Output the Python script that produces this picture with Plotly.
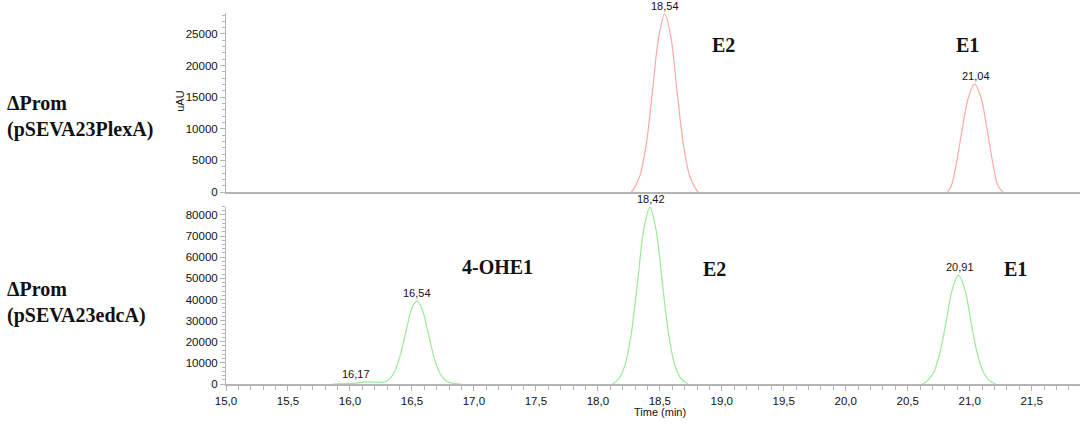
import plotly.graph_objects as go
from plotly.subplots import make_subplots

# top trace (pSEVA23PlexA) - red peaks
plexa_e2_x = [18.27, 18.29, 18.34, 18.39, 18.44, 18.49, 18.54, 18.59, 18.64, 18.69, 18.74, 18.79, 18.81]
plexa_e2_y = [0, 500, 2600, 7500, 15800, 24400, 28200, 24400, 15800, 7500, 2600, 500, 0]
plexa_e1_x = [20.82, 20.85, 20.89, 20.94, 20.99, 21.04, 21.09, 21.14, 21.19, 21.23, 21.27]
plexa_e1_y = [0, 900, 4200, 10000, 15000, 17100, 15000, 10000, 4200, 900, 0]

# bottom trace (pSEVA23edcA) - green peaks
edca_ohe1_x = [15.86, 15.95, 16.05, 16.12, 16.17, 16.22, 16.27, 16.31, 16.36, 16.41, 16.46, 16.50, 16.54,
               16.58, 16.63, 16.68, 16.73, 16.78, 16.84, 16.90]
edca_ohe1_y = [0, 150, 450, 850, 1000, 800, 900, 1900, 5770, 14500, 26900, 35800, 39300,
               35800, 24400, 12400, 4630, 1340, 190, 0]
edca_e2_x = [18.12, 18.17, 18.22, 18.27, 18.32, 18.37, 18.42, 18.47, 18.52, 18.57, 18.62, 18.67, 18.73]
edca_e2_y = [0, 2600, 9100, 24000, 48000, 72800, 83600, 72800, 48000, 24000, 9100, 2600, 0]
edca_e1_x = [20.62, 20.66, 20.71, 20.76, 20.81, 20.86, 20.91, 20.96, 21.01, 21.06, 21.11, 21.16, 21.21]
edca_e1_y = [0, 1600, 5600, 14800, 29600, 44900, 51500, 44900, 29600, 14800, 5600, 1600, 0]

# peak retention-time labels: (text, x, y, row)
peak_labels = [("18,54", 18.545, 28200, 1), ("21,04", 21.05, 17100, 1),
               ("16,17", 16.05, 1000, 2), ("16,54", 16.54, 39300, 2),
               ("18,42", 18.43, 83600, 2), ("20,91", 20.92, 51500, 2)]
# compound names: (text, x, y, row)
compound_labels = [("E2", 19.01, 23260, 1), ("E1", 20.98, 23260, 1),
                   ("4-OHE1", 17.19, 55400, 2), ("E2", 18.94, 54400, 2), ("E1", 21.37, 54400, 2)]

RED = '#ffa8a8'
GREEN = '#9aea9a'
AXC = '#b4b4b4'
SANS = 'Liberation Sans, Arial, sans-serif'
SERIF = 'Liberation Serif, Times New Roman, serif'
TICKFONT = dict(family=SANS, size=11.5, color='#111')

fig = make_subplots(rows=2, cols=1, shared_xaxes=False, vertical_spacing=0.04)
for xs, ys in [(plexa_e2_x, plexa_e2_y), (plexa_e1_x, plexa_e1_y)]:
    fig.add_trace(go.Scatter(x=xs, y=ys, mode='lines', line=dict(color=RED, width=1.2, shape='spline'),
                             showlegend=False), 1, 1)
for xs, ys in [(edca_ohe1_x, edca_ohe1_y), (edca_e2_x, edca_e2_y), (edca_e1_x, edca_e1_y)]:
    fig.add_trace(go.Scatter(x=xs, y=ys, mode='lines', line=dict(color=GREEN, width=1.2, shape='spline'),
                             showlegend=False), 2, 1)

annots = []
for t, x, y, r in peak_labels:
    annots.append(dict(text=t, x=x, y=y, xref='x' if r == 1 else 'x2', yref='y' if r == 1 else 'y2',
                       showarrow=False, yanchor='bottom', font=dict(family=SANS, size=11, color='#111')))
for t, x, y, r in compound_labels:
    annots.append(dict(text='<b>' + t + '</b>', x=x, y=y, xref='x' if r == 1 else 'x2',
                       yref='y' if r == 1 else 'y2', showarrow=False,
                       font=dict(family=SERIF, size=20, color='#111')))
annots.append(dict(text='<b>ΔProm<br>(pSEVA23PlexA)</b>', x=-0.2588, y=0.722, xref='paper', yref='paper',
                   xanchor='left', yanchor='middle', align='left', showarrow=False,
                   font=dict(family=SERIF, size=20, color='#111')))
annots.append(dict(text='<b>ΔProm<br>(pSEVA23edcA)</b>', x=-0.2588, y=0.221, xref='paper', yref='paper',
                   xanchor='left', yanchor='middle', align='left', showarrow=False,
                   font=dict(family=SERIF, size=20, color='#111')))
annots.append(dict(text='uAU', x=-0.054, y=0.763, xref='paper', yref='paper', textangle=-90,
                   xanchor='center', yanchor='middle', showarrow=False,
                   font=dict(family=SANS, size=11, color='#111')))
annots.append(dict(text='Time (min)', x=18.5, y=-0.076, xref='x2', yref='paper', yanchor='middle',
                   showarrow=False, font=dict(family=SANS, size=11, color='#111')))

xr = [15, 21.89]
fig.update_layout(
    width=1084, height=424, margin=dict(l=226, r=4, t=13, b=40),
    paper_bgcolor='white', plot_bgcolor='white', separators=', ',
    annotations=annots,
    xaxis=dict(domain=[0, 1], range=xr, showline=True, linecolor=AXC, linewidth=1.5,
               showticklabels=False, ticks='', showgrid=False, zeroline=False),
    yaxis=dict(domain=[0.5175, 1], range=[0, 28320], dtick=5000, tickformat='d',
               showline=True, linecolor=AXC, linewidth=1, ticks='outside', ticklen=5, tickcolor=AXC,
               minor=dict(dtick=1000, ticks='outside', ticklen=3, tickcolor=AXC),
               showgrid=False, zeroline=False, tickfont=TICKFONT),
    xaxis2=dict(domain=[0, 1], range=xr, dtick=0.5, tick0=15, tickformat='.1f',
                showline=True, linecolor=AXC, linewidth=1.5, ticks='outside', ticklen=5, tickcolor=AXC,
                minor=dict(dtick=0.1, ticks='outside', ticklen=4, tickcolor=AXC),
                showgrid=False, zeroline=False, tickfont=TICKFONT),
    yaxis2=dict(domain=[0, 0.4784], range=[0, 84000], dtick=10000, tickformat='d',
                showline=True, linecolor=AXC, linewidth=1, ticks='outside', ticklen=5, tickcolor=AXC,
                minor=dict(dtick=2000, ticks='outside', ticklen=3, tickcolor=AXC),
                showgrid=False, zeroline=False, tickfont=TICKFONT),
)

# drop the default page margin so the figure sits at the window's top-left corner
fig.write_html("out.html", config={'displayModeBar': False},
               post_script="document.body.style.margin='0';")
